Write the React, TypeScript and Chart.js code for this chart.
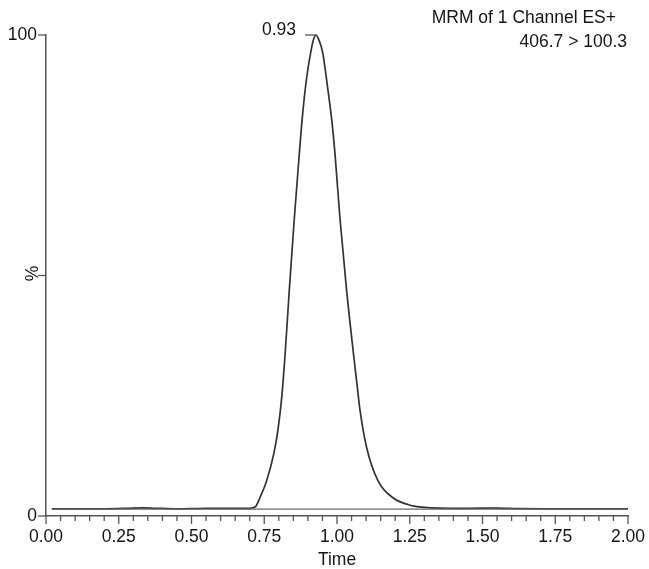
import React, { useEffect, useRef } from "react";
import { Chart, registerables } from "chart.js";

Chart.register(...registerables);

// Chromatogram trace (time in min, relative intensity in %)
const times = [
  0.02, 0.1, 0.2, 0.28, 0.33, 0.38, 0.45, 0.55, 0.65, 0.7, 0.711, 0.722, 0.735,
  0.758, 0.787, 0.804, 0.813, 0.821, 0.836, 0.852, 0.865, 0.88, 0.895,
  0.91, 0.92, 0.928, 0.937, 0.951, 0.967, 0.982, 0.993, 1.01, 1.033, 1.058, 1.07,
  1.079, 1.102, 1.141, 1.192, 1.261, 1.3, 1.35, 1.45, 1.55, 1.62, 1.72, 2.0,
];
const intensity = [
  1.5, 1.5, 1.5, 1.6, 1.7, 1.6, 1.5, 1.6, 1.6, 1.6, 1.7, 2.1, 3.8,
  7.3, 14.2, 21.2, 26.7, 33.0, 46.9, 60.8, 71.0, 82.3, 90.8,
  96.5, 99.2, 100, 99.1, 96.3, 89.4, 82.3, 75.4, 62.0, 46.9, 33.0, 26.7,
  22.0, 14.2, 7.3, 3.8, 2.1, 1.8, 1.65, 1.6, 1.65, 1.55, 1.5, 1.5,
];

// Straight baseline drawn under the peak
const baselineTimes = [0.02, 2.0];
const baselineValues = [1.45, 1.45];

const xTickLabels = ["0.00", "0.25", "0.50", "0.75", "1.00", "1.25", "1.50", "1.75", "2.00"];
const yTickValues = [0, 100];
const yMarkValues = [0, 50, 100];

const peakTime = 0.928;
const peakValue = 100;
const peakLabel = "0.93";
const headerLines = ["MRM of 1 Channel ES+", "406.7 > 100.3"];
const xTitle = "Time";
const yTitle = "%";

const FONT = "Arial, 'Liberation Sans', Helvetica, sans-serif";
const FONT_SIZE = 17.5;
const TEXT = "#151515";
const AXIS = "#555555";

export default function App() {
  const ref = useRef<HTMLCanvasElement | null>(null);

  useEffect(() => {
    const canvas = ref.current;
    if (!canvas) return;

    const overlay = {
      id: "overlay",
      afterDraw(chart: any) {
        const ctx = chart.ctx;
        const xs = chart.scales.x;
        const ys = chart.scales.y;
        const area = chart.chartArea;
        ctx.save();
        ctx.strokeStyle = AXIS;
        ctx.lineWidth = 1.3;
        // x tick marks: minor every 0.05, major every 0.25
        for (let i = 0; i <= 40; i++) {
          const px = xs.getPixelForValue(i * 0.05);
          const major = i % 5 === 0;
          ctx.beginPath();
          ctx.moveTo(px, area.bottom);
          ctx.lineTo(px, area.bottom + (major ? 8 : 5));
          ctx.stroke();
        }
        // y tick marks
        yMarkValues.forEach((v) => {
          const py = ys.getPixelForValue(v);
          ctx.beginPath();
          ctx.moveTo(area.left, py);
          ctx.lineTo(area.left - 8, py);
          ctx.stroke();
        });

        ctx.fillStyle = TEXT;
        ctx.font = `${FONT_SIZE}px ${FONT}`;
        ctx.textBaseline = "middle";

        // y title "%"
        ctx.save();
        ctx.translate(area.left - 13, ys.getPixelForValue(50) - 2);
        ctx.rotate(-Math.PI / 2);
        ctx.textAlign = "center";
        ctx.fillText(yTitle, 0, 0);
        ctx.restore();

        // header text
        ctx.textAlign = "right";
        ctx.fillText(headerLines[0], 616, 18);
        ctx.fillText(headerLines[1], 627, 42);

        // peak label
        const px = xs.getPixelForValue(peakTime);
        const py = ys.getPixelForValue(peakValue);
        ctx.fillText(peakLabel, px - 20, py - 5);
        ctx.beginPath();
        ctx.moveTo(px - 11, py);
        ctx.lineTo(px - 1, py);
        ctx.stroke();
        ctx.restore();
      },
    };

    const chart = new Chart(canvas, {
      type: "line",
      data: {
        datasets: [
          {
            label: "baseline",
            data: baselineTimes.map((t, i) => ({ x: t, y: baselineValues[i] })),
            borderColor: "#6a6a6a",
            borderWidth: 1.3,
            pointRadius: 0,
            fill: false,
            clip: false as any,
          },
          {
            label: "406.7 > 100.3",
            data: times.map((t, i) => ({ x: t, y: intensity[i] })),
            borderColor: "#333333",
            borderWidth: 1.7,
            pointRadius: 0,
            fill: false,
            cubicInterpolationMode: "monotone",
            clip: false as any,
          },
        ],
      },
      options: {
        responsive: false,
        animation: false,
        events: [],
        layout: { padding: { top: 35, right: 21, left: 0, bottom: 0 } },
        plugins: {
          legend: { display: false },
          tooltip: { enabled: false },
          title: { display: false },
        },
        scales: {
          x: {
            type: "linear",
            min: 0,
            max: 2,
            afterFit: (s: any) => {
              s.height = 53;
              s.paddingLeft = 0;
              s.paddingRight = 0;
            },
            grid: { display: false, drawTicks: false, tickLength: 0 },
            border: { display: true, color: AXIS, width: 1.5 },
            ticks: {
              stepSize: 0.25,
              autoSkip: false,
              maxRotation: 0,
              padding: 11,
              color: TEXT,
              font: { family: FONT, size: FONT_SIZE },
              callback: (v: any, i: number) => xTickLabels[i] ?? Number(v).toFixed(2),
            },
            title: {
              display: true,
              text: xTitle,
              color: TEXT,
              font: { family: FONT, size: FONT_SIZE, lineHeight: 1 },
              padding: { top: 0, bottom: 0 },
            },
          },
          y: {
            type: "linear",
            min: 0,
            max: 100,
            afterFit: (s: any) => {
              s.width = 46;
              s.paddingTop = 0;
              s.paddingBottom = 0;
            },
            afterBuildTicks: (s: any) => {
              s.ticks = yTickValues.map((v) => ({ value: v }));
            },
            grid: { display: false, drawTicks: false, tickLength: 0 },
            border: { display: true, color: AXIS, width: 1.5 },
            ticks: {
              padding: 9,
              color: TEXT,
              font: { family: FONT, size: FONT_SIZE },
              callback: (v: any) => String(v),
            },
          },
        },
      },
      plugins: [overlay],
    } as any);

    return () => chart.destroy();
  }, []);

  return (
    <div style={{ position: "absolute", left: 0, top: 0, width: 649, height: 569, background: "#fff" }}>
      <canvas ref={ref} width={649} height={569} style={{ display: "block" }} />
    </div>
  );
}
